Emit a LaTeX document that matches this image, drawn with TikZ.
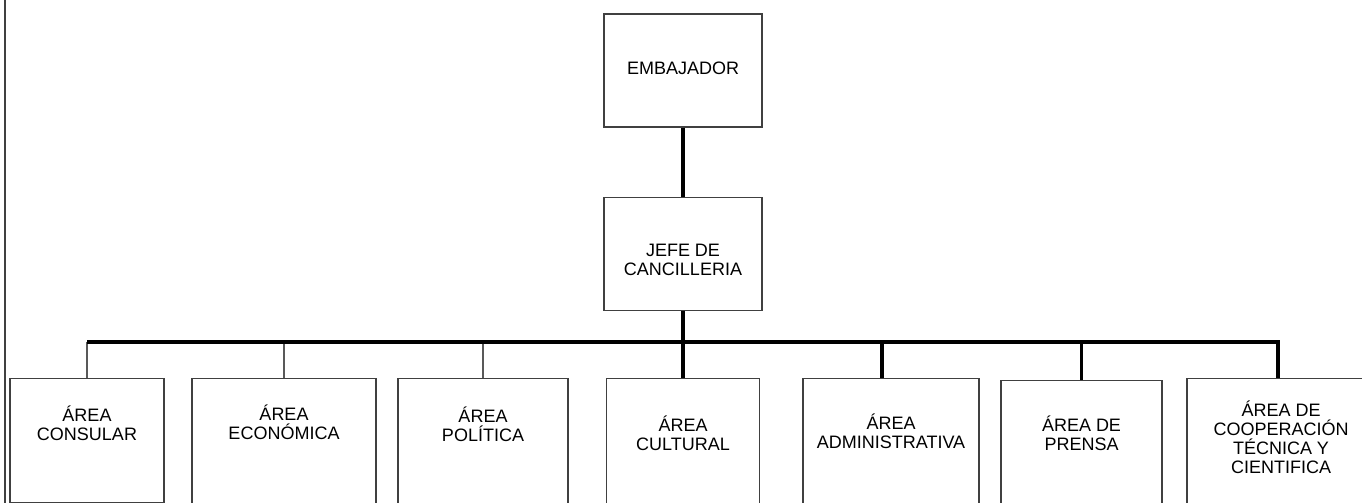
\documentclass[tikz,border=0pt]{standalone}
\usepackage{fontspec}
\setmainfont{Liberation Sans}
\usetikzlibrary{positioning}
\tikzset{
	>=latex,
}

\begin{document}
\begin{tikzpicture}[
		x=1pt, y=-1pt,
		every node/.style={font=\fontsize{18}{19}\selectfont},
		cargo/.style={
			draw=black!75, line width=1.2pt,
			minimum width=158pt, minimum height=113pt,
			align=center, inner sep=0pt,
		},
		area/.style={
			draw=black!75, line width=1.2pt,
			anchor=north, minimum width=#1,
			align=center, inner sep=0pt,
			text depth=100pt,
		},
		tronco/.style={line width=3.5pt},
		rama/.style={draw=black!65, line width=1.3pt},
	]
	\useasboundingbox (0,0) rectangle (1362,503);
	\draw[draw=black!75, line width=1.5pt] (5,0) -- (5,503);
	\draw
		node(emb)[cargo,text height=60.5pt,text depth=52.5pt] at (683,70.5) {EMBAJADOR}
		node(jefe)[cargo,text height=78pt,text depth=35pt,below=69pt of emb] {JEFE DE\\CANCILLERIA}
	;
	\draw
		node(cons)[area=154pt,text height=61.5pt,text depth=62pt] at (87,378) {ÁREA\\CONSULAR}
		node(econ)[area=184pt,text height=60.5pt] at (284,378) {ÁREA\\ECONÓMICA}
		node(poli)[area=170pt,text height=62.5pt] at (483,378) {ÁREA\\POLÍTICA}
		node(cult)[area=153pt,text height=71.5pt] at (683,378) {ÁREA\\CULTURAL}
		node(admi)[area=176pt,text height=69.5pt] at (891,378) {ÁREA\\ADMINISTRATIVA}
		node(pren)[area=161pt,text height=70pt] at (1081.5,380) {ÁREA DE\\PRENSA}
		node(coop)[area=188pt,text height=94.5pt] at (1281,378) {ÁREA DE\\COOPERACIÓN\\TÉCNICA Y\\CIENTIFICA}
	;
	\coordinate (bar) at (683,342);
	\coordinate (admiin) at ([xshift=-9pt]admi.north);
	\coordinate (coopin) at ([xshift=-3pt]coop.north);
	% thin drops first, the bar goes over them
	\draw[rama] (bar -| cons.north) -- (cons);
	\draw[rama] (bar -| econ.north) -- (econ);
	\draw[rama] (bar -| poli.north) -- (poli);
	\draw[tronco] (emb) -- (jefe);
	\draw[tronco] (jefe) -- (cult);
	\draw[tronco] (bar -| cons.north) -- (bar -| coopin) -- (coopin);
	\draw[tronco] (bar -| admiin) -- (admiin);
	\draw[tronco] (bar -| pren.north) -- (pren);
\end{tikzpicture}
\end{document}
